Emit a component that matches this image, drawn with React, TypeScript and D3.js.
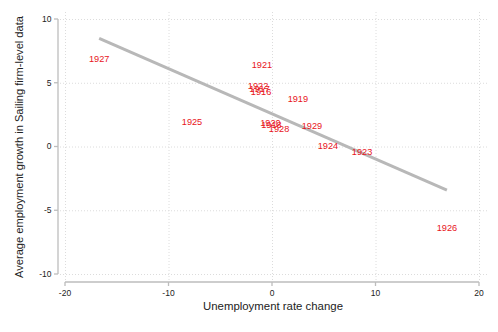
import React, { useEffect, useRef } from 'react';
import * as d3 from 'd3';

// years and values
const years = [1916, 1917, 1918, 1919, 1920, 1921, 1922, 1923, 1924, 1925, 1926, 1927, 1928, 1929];
const unempChange = [-1.06, -1.2, -0.05, 2.5, -0.15, -0.97, -1.35, 8.7, 5.4, -7.73, 16.9, -16.7, 0.68, 3.86];
const empGrowth = [4.31, 4.55, 1.7, 3.76, 1.88, 6.43, 4.78, -0.39, 0.08, 1.96, -6.35, 6.9, 1.41, 1.65];
// fitted line
const fitIntercept = 2.56;
const fitSlope = -0.354;
const xTicks = [-20, -10, 0, 10, 20];
const yTicks = [-10, -5, 0, 5, 10];

export default function App() {
  const ref = useRef<SVGSVGElement>(null);

  useEffect(() => {
    const svg = d3.select(ref.current);
    svg.selectAll('*').remove();
    const font = 'Liberation Sans, Arial, sans-serif';
    const x = d3.scaleLinear().domain([-20, 20]).range([65, 479]);
    const y = d3.scaleLinear().domain([-10, 10]).range([274, 19]);

    svg.append('rect').attr('width', 498).attr('height', 332).attr('fill', '#fff');

    // grid
    const grid = svg.append('g').attr('stroke', '#dcdcdc').attr('stroke-width', 1).attr('stroke-dasharray', '1,2');
    grid.selectAll('line.h').data(yTicks).enter().append('line')
      .attr('x1', 60).attr('x2', 487)
      .attr('y1', d => y(d) + 0.5).attr('y2', d => y(d) + 0.5);
    grid.selectAll('line.v').data(xTicks).enter().append('line')
      .attr('y1', 12).attr('y2', 281)
      .attr('x1', d => x(d) + 0.5).attr('x2', d => x(d) + 0.5);

    // axes
    const ax = svg.append('g').attr('stroke', '#bdbdbd').attr('stroke-width', 1.3).attr('fill', 'none');
    ax.append('line').attr('x1', 58).attr('x2', 58).attr('y1', y(10)).attr('y2', y(-10));
    ax.selectAll('line.yt').data(yTicks).enter().append('line')
      .attr('x1', 54).attr('x2', 58).attr('y1', d => y(d)).attr('y2', d => y(d));
    ax.append('line').attr('y1', 282).attr('y2', 282).attr('x1', x(-20)).attr('x2', x(20));
    ax.selectAll('line.xt').data(xTicks).enter().append('line')
      .attr('y1', 282).attr('y2', 286).attr('x1', d => x(d)).attr('x2', d => x(d));

    svg.selectAll('text.yl').data(yTicks).enter().append('text')
      .attr('x', 51.5).attr('y', d => y(d)).attr('dy', '0.35em')
      .attr('text-anchor', 'end').attr('font-family', font).attr('font-size', 8.5)
      .attr('fill', '#222').text(d => d);
    svg.selectAll('text.xl').data(xTicks).enter().append('text')
      .attr('x', d => x(d)).attr('y', 296)
      .attr('text-anchor', 'middle').attr('font-family', font).attr('font-size', 8.5)
      .attr('fill', '#222').text(d => d);

    svg.append('text').attr('x', 273).attr('y', 310).attr('text-anchor', 'middle')
      .attr('font-family', font).attr('font-size', 11.4).attr('fill', '#222')
      .text('Unemployment rate change');
    svg.append('text').attr('transform', `translate(22.5 147) rotate(-90)`)
      .attr('text-anchor', 'middle').attr('font-family', font).attr('font-size', 11.1).attr('fill', '#222')
      .text('Average employment growth in Sailing firm-level data');

    // fit line
    const [xmin, xmax] = d3.extent(unempChange) as [number, number];
    svg.append('path')
      .attr('d', d3.line<number>().x(d => x(d)).y(d => y(fitIntercept + fitSlope * d))([xmin, xmax]))
      .attr('stroke', '#b8b8b8').attr('stroke-width', 3).attr('fill', 'none');

    // labels
    svg.selectAll('text.pt').data(years).enter().append('text')
      .attr('x', (d, i) => x(unempChange[i])).attr('y', (d, i) => y(empGrowth[i]))
      .attr('dy', '0.35em').attr('text-anchor', 'middle')
      .attr('font-family', font).attr('font-size', 9.2).attr('fill', '#e8141c')
      .text(d => d);
  }, []);

  return <svg ref={ref} width={498} height={332} style={{ position: 'absolute', left: 0, top: 0 }} />;
}
